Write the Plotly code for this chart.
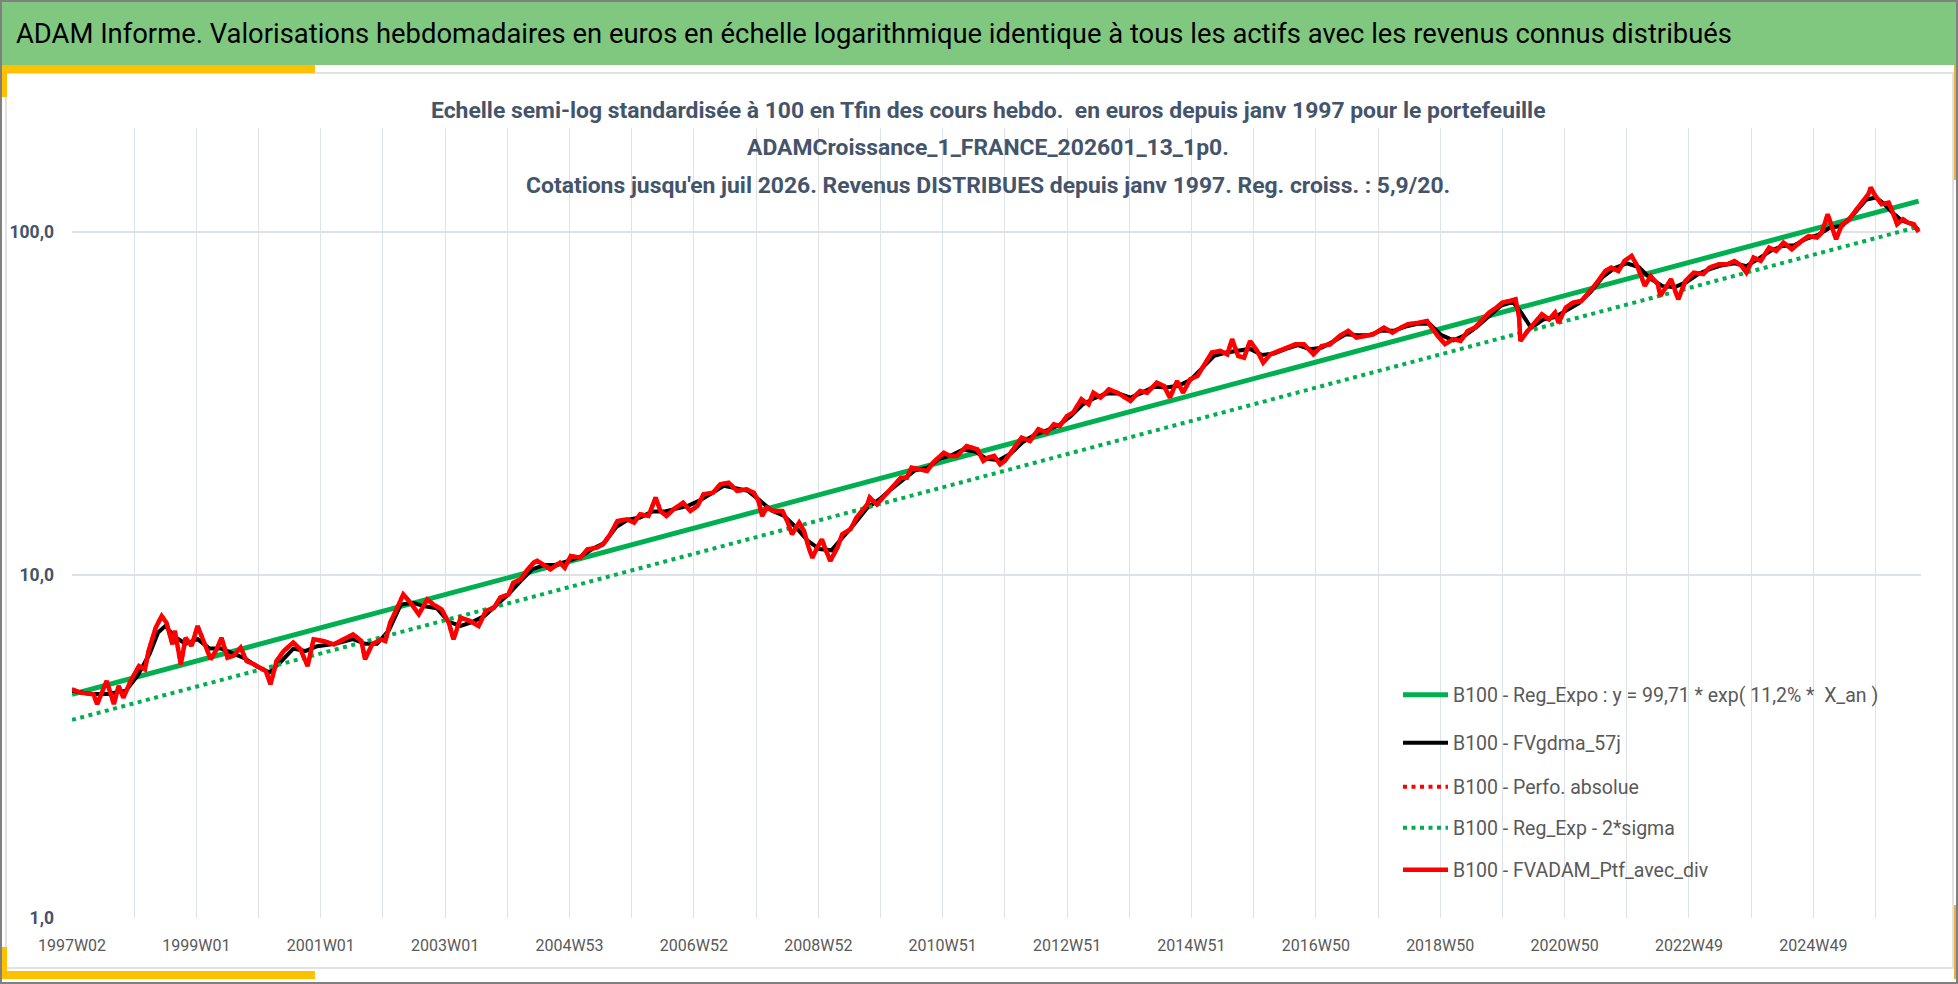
import plotly.graph_objects as go

# ---------------- data ----------------
# x = week index counted from 1997W02 (category position on the weekly axis)
tick_labels = ["1997W02", "1999W01", "2001W01", "2003W01", "2004W53", "2006W52",
               "2008W52", "2010W51", "2012W51", "2014W51", "2016W50", "2018W50",
               "2020W50", "2022W49", "2024W49"]
y_tick_values = [1, 10, 100]
y_tick_labels = ["1,0", "10,0", "100,0"]

ptf_weeks = [0, 7, 18, 21, 29, 35, 39, 43, 49, 56, 61, 64, 70, 75, 79, 84, 86, 91, 95, 100,
             105, 110, 116, 121, 125, 130, 135, 141, 146, 152, 157, 162, 166, 171, 177, 185,
             191, 197, 202, 210, 219, 227, 235, 242, 245, 251, 258, 262, 266, 272, 277, 283,
             290, 297, 302, 309, 315, 319, 325, 333, 340, 346, 353, 358, 365, 369, 375, 380,
             386, 389, 394, 400, 408, 412, 417, 425, 431, 439, 444, 450, 456, 464, 470, 475,
             482, 488, 492, 497, 503, 511, 517, 523, 528, 536, 542, 549, 556, 564, 570, 574,
             577, 581, 587, 594, 598, 602, 608, 612, 616, 619, 623, 627, 630, 634, 640, 644,
             651, 656, 665, 667, 673, 681, 687, 693, 698, 702, 709, 715, 720, 729, 734, 740,
             748, 757, 762, 766, 771, 776, 780, 786, 794, 801, 808, 815, 821, 826, 832, 837,
             844, 850, 854, 860, 867, 874, 879, 885, 893, 899, 907, 913, 918, 924, 929, 935,
             941, 946, 953, 960, 966, 970, 975, 980, 985, 991, 996, 1002, 1010, 1016, 1023,
             1030, 1038, 1045, 1052, 1060, 1067, 1074, 1081, 1088, 1097, 1104, 1111, 1117,
             1126, 1133, 1138, 1142, 1148, 1155, 1161, 1167, 1173, 1179, 1185, 1191, 1196,
             1202, 1207, 1210, 1211, 1217, 1223, 1229, 1235, 1240, 1243, 1249, 1255, 1262,
             1268, 1274, 1282, 1287, 1293, 1298, 1304, 1308, 1312, 1315, 1320, 1326, 1328,
             1333, 1337, 1343, 1349, 1356, 1364, 1369, 1377, 1384, 1390, 1396, 1400, 1406,
             1412, 1419, 1425, 1431, 1438, 1446, 1452, 1459, 1463, 1468, 1472, 1475, 1480,
             1485, 1491, 1497, 1502, 1504, 1507, 1513, 1519, 1523, 1526, 1531, 1535, 1540, 1544]
ptf_values = [4.64, 4.54, 4.49, 4.20, 4.91, 4.20, 4.75, 4.39, 4.91, 5.43, 5.31, 6.00, 7.02, 7.59,
              7.26, 6.28, 6.87, 5.49, 6.56, 6.21, 7.10, 6.42, 5.68, 6.07, 6.56, 5.74, 5.81, 6.14,
              5.61, 5.49, 5.37, 5.25, 4.80, 5.61, 6.00, 6.35, 6.07, 5.43, 6.49, 6.42, 6.28, 6.49,
              6.71, 6.42, 5.68, 6.28, 6.49, 6.42, 7.26, 8.03, 8.78, 8.30, 7.68, 8.49, 8.21, 7.94,
              7.26, 6.49, 7.51, 7.34, 7.10, 7.85, 8.03, 8.59, 8.78, 9.50, 9.71, 10.27, 10.86,
              10.99, 10.74, 10.39, 10.86, 10.50, 11.36, 11.23, 11.88, 12.01, 12.28, 13.14, 14.37,
              14.53, 14.21, 15.03, 14.86, 16.81, 15.37, 14.86, 15.54, 16.25, 15.37, 15.89, 17.19,
              17.38, 18.38, 18.59, 17.58, 17.78, 17.38, 16.44, 14.86, 15.71, 15.37, 15.37, 14.37,
              13.14, 14.21, 13.44, 12.01, 11.23, 12.01, 12.71, 11.88, 10.99, 12.01, 13.14, 13.59,
              14.70, 16.07, 16.81, 16.07, 17.19, 18.18, 19.22, 19.22, 20.56, 20.32, 20.10, 21.26,
              22.73, 22.23, 22.23, 23.77, 23.25, 21.50, 21.98, 22.23, 21.02, 21.50, 22.99, 25.14,
              24.59, 26.60, 26.00, 27.50, 27.20, 29.08, 29.74, 32.52, 31.45, 34.00, 32.89, 34.77,
              34.00, 33.26, 32.17, 34.39, 34.00, 36.37, 35.56, 32.89, 36.78, 34.00, 37.20, 38.04,
              40.68, 44.48, 44.98, 43.99, 48.65, 43.50, 43.01, 48.11, 44.98, 41.59, 43.99, 44.98,
              46.0, 47.04, 47.04, 43.99, 46.52, 47.04, 49.75, 51.45, 49.20, 49.75, 50.31, 52.60,
              50.87, 52.6, 53.8, 54.4, 55.0, 52.0, 49.7, 47.1, 48.7, 48.1, 51.4, 52.6, 55.6, 58.2,
              60.2, 62.2, 62.9, 63.6, 56.3, 48.1, 51.4, 54.4, 57.5, 55.6, 58.2, 54.4, 60.2, 62.2,
              62.9, 66.5, 70.4, 76.9, 78.7, 76.9, 82.3, 85.1, 80.5, 74.4, 69.6, 74.4, 70.4, 65.1,
              68.8, 72.8, 63.6, 71.9, 76.1, 75.3, 78.7, 80.5, 80.5, 82.3, 79.6, 76.1, 84.2, 82.3,
              90.0, 88.0, 93.1, 89.0, 94.1, 97.3, 96.3, 99.5, 112.6, 103.0, 95.2, 105.3, 107.7,
              115.1, 121.8, 128.8, 134.7, 128.8, 120.4, 121.8, 112.6, 105.3, 108.9, 106.5, 105.3,
              100.0]

ma_weeks = [0, 15, 30, 45, 55, 65, 72, 78, 86, 95, 105, 115, 125, 135, 145, 155, 165, 175, 185,
            195, 205, 220, 235, 245, 255, 265, 275, 285, 295, 305, 315, 325, 335, 345, 355, 365,
            375, 385, 395, 405, 415, 425, 435, 445, 455, 465, 475, 485, 495, 505, 515, 525, 535,
            545, 555, 565, 575, 585, 595, 605, 615, 625, 635, 645, 655, 665, 675, 685, 695, 705,
            715, 725, 735, 745, 755, 765, 775, 785, 795, 805, 815, 825, 835, 845, 855, 865, 875,
            885, 895, 905, 915, 925, 935, 945, 955, 965, 975, 985, 995, 1005, 1015, 1025, 1035,
            1045, 1055, 1065, 1075, 1085, 1095, 1105, 1115, 1125, 1135, 1145, 1155, 1165, 1175,
            1185, 1195, 1205, 1212, 1220, 1230, 1240, 1250, 1260, 1270, 1280, 1290, 1300, 1310,
            1320, 1330, 1340, 1350, 1360, 1370, 1380, 1390, 1400, 1410, 1420, 1430, 1440, 1450,
            1460, 1470, 1480, 1490, 1500, 1508, 1515, 1522, 1530, 1538, 1544]
ma_values = [4.6, 4.5, 4.5, 4.6, 5.1, 5.9, 6.8, 7.1, 6.6, 6.3, 6.5, 6.1, 6.1, 5.9, 5.7, 5.4, 5.2,
             5.6, 6.1, 6.0, 6.2, 6.3, 6.5, 6.3, 6.3, 6.9, 8.2, 8.3, 8.1, 8.0, 7.3, 7.1, 7.3, 7.6,
             8.2, 8.8, 9.6, 10.4, 10.7, 10.7, 11.0, 11.3, 11.9, 12.4, 13.8, 14.5, 14.7, 15.3, 15.3,
             15.6, 15.9, 16.5, 17.3, 18.2, 17.9, 17.6, 16.5, 15.4, 14.9, 13.8, 12.6, 11.9, 11.8,
             12.9, 14.2, 15.7, 16.6, 17.8, 19.0, 20.2, 20.5, 21.8, 22.3, 23.2, 22.9, 21.8, 21.6,
             22.6, 24.4, 25.6, 26.4, 27.3, 29.0, 31.4, 32.8, 33.8, 33.8, 32.9, 34.0, 35.4, 35.2,
             35.6, 37.0, 40.0, 43.5, 44.5, 45.0, 45.6, 43.8, 44.2, 45.6, 46.8, 45.5, 46.0, 48.0,
             50.3, 50.0, 50.0, 51.6, 51.5, 53.0, 54.0, 54.0, 50.0, 48.3, 50.0, 53.0, 57.0, 61.0,
             62.5, 58.0, 52.5, 55.5, 56.5, 59.0, 62.0, 67.0, 74.0, 78.5, 81.0, 79.0, 73.0, 69.5,
             69.0, 71.5, 75.5, 78.0, 80.0, 81.0, 79.5, 83.5, 88.0, 91.0, 91.5, 95.5, 98.0, 103.0,
             104.0, 113.0, 124.0, 126.0, 121.0, 114.0, 108.0, 105.5, 101.5]

reg_weeks = [0, 1544]
reg_values = [4.49, 123.0]          # exponential regression (straight on the log scale)
reg_low_values = [3.78, 103.6]      # regression - 2*sigma

names = ["B100 - Reg_Expo : y = 99,71 * exp( 11,2% *  X_an )",
         "B100 - FVgdma_57j",
         "B100 - Perfo. absolue",
         "B100 - Reg_Exp - 2*sigma",
         "B100 - FVADAM_Ptf_avec_div"]

title_text = ("ADAM Informe. Valorisations hebdomadaires en euros en échelle logarithmique "
              "identique à tous les actifs avec les revenus connus distribués")
subtitle_lines = [
    "Echelle semi-log standardisée à 100 en Tfin des cours hebdo.  en euros depuis janv 1997 pour le portefeuille",
    "ADAMCroissance_1_FRANCE_202601_13_1p0.",
    "Cotations jusqu'en juil 2026. Revenus DISTRIBUES depuis janv 1997. Reg. croiss. : 5,9/20.",
]

# ---------------- geometry / style ----------------
W, H = 1958, 984
PL, PR, PT, PB = 72, 1921, 128, 918
WEEKS_SPAN = 1546
FONT = "Roboto, Liberation Sans, sans-serif"
GREEN = "#00B050"
RED = "#FF0000"
GRID = "#DDE1E8"
TXT = "#44546A"


def fx(p):
    return (p - PL) / (PR - PL)


def fy(p):
    return (PB - p) / (PB - PT)


fig = go.Figure()

fig.add_trace(go.Scatter(x=reg_weeks, y=reg_values, mode="lines", name=names[0],
                         line=dict(color=GREEN, width=5), legend="legend"))
fig.add_trace(go.Scatter(x=ma_weeks, y=ma_values, mode="lines", name=names[1],
                         line=dict(color="#000000", width=4), legend="legend2"))
fig.add_trace(go.Scatter(x=ptf_weeks, y=ptf_values, mode="lines", name=names[2],
                         line=dict(color=RED, width=4, dash="4px,4.5px"), legend="legend3"))
fig.add_trace(go.Scatter(x=reg_weeks, y=reg_low_values, mode="lines", name=names[3],
                         line=dict(color=GREEN, width=4, dash="4px,4.5px"), legend="legend4"))
fig.add_trace(go.Scatter(x=ptf_weeks, y=ptf_values, mode="lines", name=names[4],
                         line=dict(color=RED, width=4.5), legend="legend5"))

legend_y = [695, 743, 787, 828, 870]
legend_common = dict(xanchor="left", yanchor="middle", bgcolor="rgba(0,0,0,0)",
                     borderwidth=0, itemwidth=45,
                     font=dict(family=FONT, size=19.5, color="#595959"))
legend_layout = {}
for i, yy in enumerate(legend_y):
    key = "legend" if i == 0 else f"legend{i + 1}"
    legend_layout[key] = dict(x=fx(1398), y=fy(yy), **legend_common)

shapes = [
    # green title banner
    dict(type="rect", xref="paper", yref="paper", x0=fx(1), x1=fx(W - 1), y0=fy(65), y1=fy(1),
         fillcolor="#80C880", line=dict(width=0), layer="below"),
    # inner chart frame
    dict(type="rect", xref="paper", yref="paper", x0=fx(6), x1=fx(W - 5), y0=fy(968), y1=fy(73),
         fillcolor="rgba(0,0,0,0)", line=dict(color="#D9D9D9", width=1.5), layer="below"),
    # yellow accents
    dict(type="rect", xref="paper", yref="paper", x0=fx(1), x1=fx(315), y0=fy(73), y1=fy(65),
         fillcolor="#FFC000", line=dict(width=0), layer="below"),
    dict(type="rect", xref="paper", yref="paper", x0=fx(1), x1=fx(7), y0=fy(97), y1=fy(65),
         fillcolor="#FFC000", line=dict(width=0), layer="below"),
    dict(type="rect", xref="paper", yref="paper", x0=fx(1), x1=fx(315), y0=fy(979), y1=fy(971),
         fillcolor="#FFC000", line=dict(width=0), layer="below"),
    dict(type="rect", xref="paper", yref="paper", x0=fx(1), x1=fx(7), y0=fy(979), y1=fy(947),
         fillcolor="#FFC000", line=dict(width=0), layer="below"),
    dict(type="rect", xref="paper", yref="paper", x0=fx(W - 4), x1=fx(W - 1), y0=fy(180), y1=fy(65),
         fillcolor="#E8B040", line=dict(width=0), layer="below"),
    dict(type="rect", xref="paper", yref="paper", x0=fx(W - 4), x1=fx(W - 1), y0=fy(979), y1=fy(905),
         fillcolor="#E8B040", line=dict(width=0), layer="below"),
    # outer border
    dict(type="rect", xref="paper", yref="paper", x0=fx(1), x1=fx(W - 1), y0=fy(H - 1), y1=fy(1),
         fillcolor="rgba(0,0,0,0)", line=dict(color="#808080", width=2), layer="above"),
]

annotations = [
    dict(text=title_text, xref="paper", yref="paper", x=fx(14), y=fy(34), xanchor="left",
         yanchor="middle", showarrow=False,
         font=dict(family=FONT, size=27.4, color="#000000")),
]
for i, line in enumerate(subtitle_lines):
    annotations.append(dict(text="<b>" + line + "</b>", xref="paper", yref="paper", x=fx(988),
                            y=fy(110 + 37.5 * i), xanchor="center", yanchor="middle",
                            showarrow=False,
                            font=dict(family=FONT, size=22.9, color=TXT)))

fig.update_layout(
    width=W, height=H,
    margin=dict(l=PL, r=W - PR, t=PT, b=H - PB, pad=0),
    paper_bgcolor="#FFFFFF", plot_bgcolor="#FFFFFF",
    showlegend=True,
    shapes=shapes, annotations=annotations,
    xaxis=dict(range=[0, WEEKS_SPAN], tickmode="array", automargin=False,
               tickvals=[104 * i for i in range(len(tick_labels))], ticktext=tick_labels,
               showgrid=True, gridcolor=GRID, gridwidth=1.2, zeroline=False, showline=False,
               ticks="", ticklabelstandoff=16,
               tickfont=dict(family=FONT, size=16, color="#595959"),
               minor=dict(tick0=0, dtick=52, showgrid=True, gridcolor=GRID, gridwidth=1.2)),
    yaxis=dict(type="log", range=[0, 2.303], tickmode="array", tickvals=y_tick_values,
               automargin=False,
               ticktext=y_tick_labels, showgrid=True, gridcolor=GRID, gridwidth=2,
               zeroline=False, showline=False, ticks="", ticklabelstandoff=17,
               tickfont=dict(family=FONT, size=17.5, color=TXT, weight="bold")),
    **legend_layout,
)

fig.write_html("out.html", config={"displayModeBar": False},
               post_script="document.body.style.margin='0';")
